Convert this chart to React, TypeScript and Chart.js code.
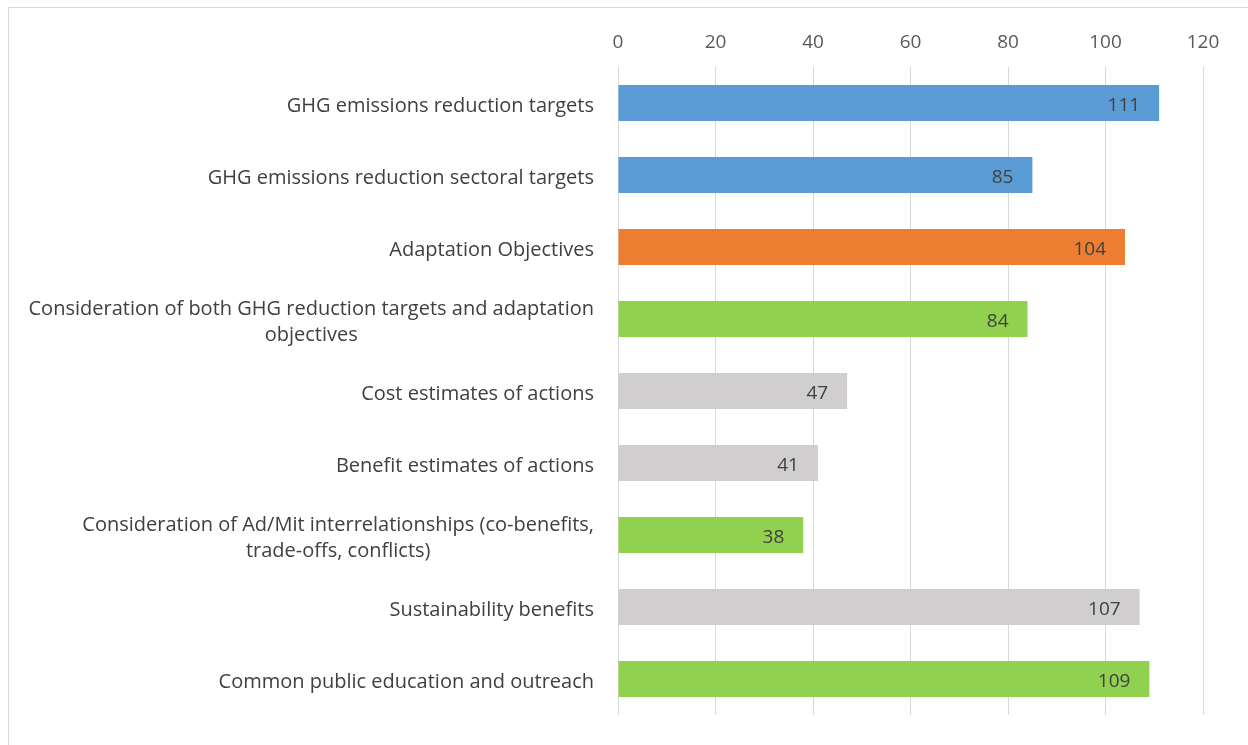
import React, { useEffect, useRef } from "react";
import { Chart, registerables } from "chart.js";

Chart.register(...registerables);

const categories: (string | string[])[] = [
  "GHG emissions reduction targets",
  "GHG emissions reduction sectoral targets",
  "Adaptation Objectives",
  ["Consideration of both GHG reduction targets and adaptation", "objectives"],
  "Cost estimates of actions",
  "Benefit estimates of actions",
  ["Consideration of Ad/Mit interrelationships (co-benefits,", "trade-offs, conflicts)"],
  "Sustainability benefits",
  "Common public education and outreach",
];

const values = [111, 85, 104, 84, 47, 41, 38, 107, 109];

const barColors = [
  "#5B9BD5",
  "#5B9BD5",
  "#ED7D31",
  "#92D050",
  "#D0CECE",
  "#D0CECE",
  "#92D050",
  "#D0CECE",
  "#92D050",
];

const xTicks = [0, 20, 40, 60, 80, 100, 120];

const FONT = '"Open Sans", "Noto Sans", sans-serif';
const LABEL_SIZE = 20;
const VALUE_SIZE = 19;
const TICK_SIZE = 19;

export default function App() {
  const ref = useRef<HTMLCanvasElement | null>(null);

  useEffect(() => {
    if (!ref.current) return;

    const labelPlugin = {
      id: "customLabels",
      afterDatasetsDraw(chart: any) {
        const ctx = chart.ctx;
        const meta = chart.getDatasetMeta(0);
        ctx.save();
        ctx.font = `${VALUE_SIZE}px ${FONT}`;
        ctx.fillStyle = "#404040";
        ctx.textAlign = "right";
        ctx.textBaseline = "middle";
        meta.data.forEach((bar: any, i: number) => {
          ctx.fillText(String(values[i]), bar.x - 19, bar.y + 3);
        });
        ctx.restore();
      },
      afterDraw(chart: any) {
        const ctx = chart.ctx;
        const yScale = chart.scales.y;
        const right = chart.chartArea.left - 24;
        const lineH = 26;
        ctx.save();
        ctx.font = `${LABEL_SIZE}px ${FONT}`;
        ctx.fillStyle = "#404040";
        ctx.textBaseline = "middle";
        categories.forEach((lab, i) => {
          const cy = yScale.getPixelForTick(i) + 3;
          const lines = Array.isArray(lab) ? lab : [lab];
          const maxW = Math.max(...lines.map((l) => ctx.measureText(l).width));
          const cx = right - maxW / 2;
          ctx.textAlign = "center";
          const y0 = cy - ((lines.length - 1) * lineH) / 2;
          lines.forEach((l, j) => {
            ctx.fillText(l, cx, y0 + j * lineH);
          });
        });
        ctx.restore();
      },
    };

    const chart = new Chart(ref.current, {
      type: "bar",
      data: {
        labels: categories.map((c) => (Array.isArray(c) ? c.join(" ") : c)),
        datasets: [
          {
            data: values,
            backgroundColor: barColors,
            borderWidth: 0,
            categoryPercentage: 0.5,
            barPercentage: 1,
          },
        ],
      },
      options: {
        indexAxis: "y",
        animation: false,
        responsive: false,
        maintainAspectRatio: false,
        layout: { padding: { left: 0, right: 45, top: 0, bottom: 30 } },
        plugins: {
          legend: { display: false },
          tooltip: { enabled: false },
          title: { display: false },
        },
        scales: {
          x: {
            position: "top",
            min: 0,
            max: 120,
            afterBuildTicks(scale: any) {
              scale.ticks = xTicks.map((v) => ({ value: v }));
            },
            afterFit(scale: any) {
              scale.height = 59;
            },
            grid: {
              color: "#d9d9d9",
              lineWidth: 1,
              drawTicks: false,
            },
            border: { display: false },
            ticks: {
              padding: 13,
              color: "#595959",
              font: { family: FONT, size: TICK_SIZE },
            },
          },
          y: {
            afterFit(scale: any) {
              scale.width = 609;
            },
            grid: { display: false, drawTicks: false },
            border: { display: false },
            ticks: { display: false },
          },
        },
      },
      plugins: [labelPlugin],
    });

    return () => chart.destroy();
  }, []);

  return (
    <div
      style={{
        position: "fixed",
        left: 8,
        top: 7,
        width: 1240,
        height: 738,
        borderLeft: "1px solid #d9d9d9",
        borderTop: "1px solid #d9d9d9",
        background: "#fff",
      }}
    >
      <canvas ref={ref} width={1239} height={737} style={{ display: "block" }} />
    </div>
  );
}
